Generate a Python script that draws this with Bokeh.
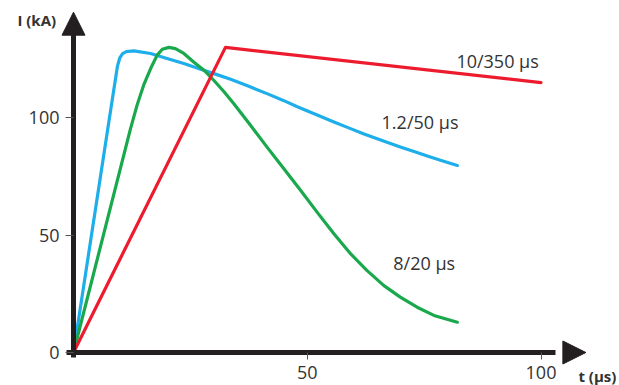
from bokeh.plotting import figure
from bokeh.models import Range1d, LinearAxis, FixedTicker, Arrow, NormalHead, Label, ColumnDataSource
from bokeh.embed import file_html
from bokeh.resources import INLINE

# ---- data ----
blue_t = [0, 7.4, 9.4, 9.9, 10.5, 11.3, 12.9, 16.5, 20.0, 23.6, 27.2, 30.7, 33.6, 37.5,
          41.4, 45, 48, 52, 55.7, 59, 62, 66, 69.9, 73, 76, 79, 82.1]
blue_i = [0, 96.2, 122, 125.5, 127.3, 128.2, 128.5, 127.4, 125.3, 123.1, 120.7, 118.4, 116.4, 113.4,
          110.3, 107.3, 104.6, 101.3, 98.2, 95.6, 93.2, 90.3, 87.6, 85.5, 83.5, 81.6, 79.7]

green_t = [0, 12.2, 13.6, 15.0, 16.5, 17.9, 19.0, 20.4, 21.8, 23.6, 25.7, 27.9, 30.0, 32.2,
           34.3, 37.9, 41.4, 45.0, 48.6, 52.1, 55.7, 59.3, 62.8, 66.4, 69.9, 73.5, 77.1, 82.1]
green_i = [0, 95.4, 105.4, 113.9, 121.0, 126.7, 129.2, 130.0, 129.5, 127.4, 123.8, 120.3, 116.0, 111.1,
           106.0, 96.7, 87.5, 78.3, 69.0, 59.8, 50.6, 42.0, 34.9, 28.5, 23.6, 19.3, 15.8, 12.9]

red_t = [0, 32.5, 100]
red_i = [0, 130, 115]

x_ticks = [50, 100]
y_ticks = [0, 50, 100]

series_labels = ["1.2/50 µs", "8/20 µs", "10/350 µs"]
series_colors = ["#1eaee9", "#19a94c", "#ec1c2e"]

# ---- layout ----
W, H = 619, 385
OX, OY = 73, 352          # origin in figure pixels
SX, SY = 4.675, 2.347     # pixels per unit

TEXT = "#333333"
AXIS = "#231f20"
FONT = "Open Sans"

p = figure(width=W, height=H, output_backend="svg", toolbar_location=None,
           x_range=Range1d(-OX / SX, (W - OX) / SX),
           y_range=Range1d((OY - H) / SY, OY / SY),
           x_axis_location=None, y_axis_location=None,
           min_border=0, outline_line_color=None)
p.xgrid.visible = False
p.ygrid.visible = False
p.background_fill_color = "white"
p.border_fill_color = "white"

# axes at the origin
yax = LinearAxis(fixed_location=0, bounds=(-2, 138), ticker=FixedTicker(ticks=y_ticks))
xax = LinearAxis(fixed_location=0, bounds=(-1.5, 103), ticker=FixedTicker(ticks=x_ticks))
for ax in (xax, yax):
    ax.axis_line_width = 5
    ax.axis_line_color = AXIS
    ax.major_tick_in = 0
    ax.major_tick_line_width = 1
    ax.major_tick_line_color = "#555555"
    ax.minor_tick_line_color = None
    ax.major_label_text_font = FONT
    ax.major_label_text_font_size = "18px"
    ax.major_label_text_color = TEXT
yax.major_tick_out = 8
yax.major_label_standoff = 6
xax.major_tick_out = 7
xax.major_label_standoff = 6
p.add_layout(yax, "left")
p.add_layout(xax, "below")

# arrow heads
p.add_layout(Arrow(end=NormalHead(size=23, fill_color=AXIS, line_color=AXIS, line_width=1),
                   x_start=0, y_start=130, x_end=0, y_end=145, line_color=None))
p.add_layout(Arrow(end=NormalHead(size=23, fill_color=AXIS, line_color=AXIS, line_width=1),
                   x_start=100, y_start=0, x_end=109.6, y_end=0, line_color=None))

# curves
for t, i, c in [(blue_t, blue_i, series_colors[0]),
                (green_t, green_i, series_colors[1]),
                (red_t, red_i, series_colors[2])]:
    src = ColumnDataSource(dict(t=t, i=i))
    p.line("t", "i", source=src, line_color=c, line_width=3.2, line_join="round", line_cap="round")

# curve labels
label_pos = [(65.9, 98.2), (68.4, 38.2), (81.9, 124.1)]
for txt, (lx, ly) in zip(series_labels, label_pos):
    p.add_layout(Label(x=lx, y=ly, text=txt, text_font=FONT, text_font_size="18px",
                       text_color=TEXT, text_align="left", text_baseline="alphabetic"))

# axis titles
p.add_layout(Label(x=-12.0, y=141.5, text="I (kA)", text_font=FONT, text_font_size="15px",
                   text_font_style="bold", text_color=TEXT, text_align="left", text_baseline="middle"))
p.add_layout(Label(x=108.0, y=-9.8, text="t (µs)", text_font=FONT, text_font_size="15px",
                   text_font_style="bold", text_color=TEXT, text_align="left", text_baseline="middle"))

open("out.html", "w").write(file_html(p, INLINE))
